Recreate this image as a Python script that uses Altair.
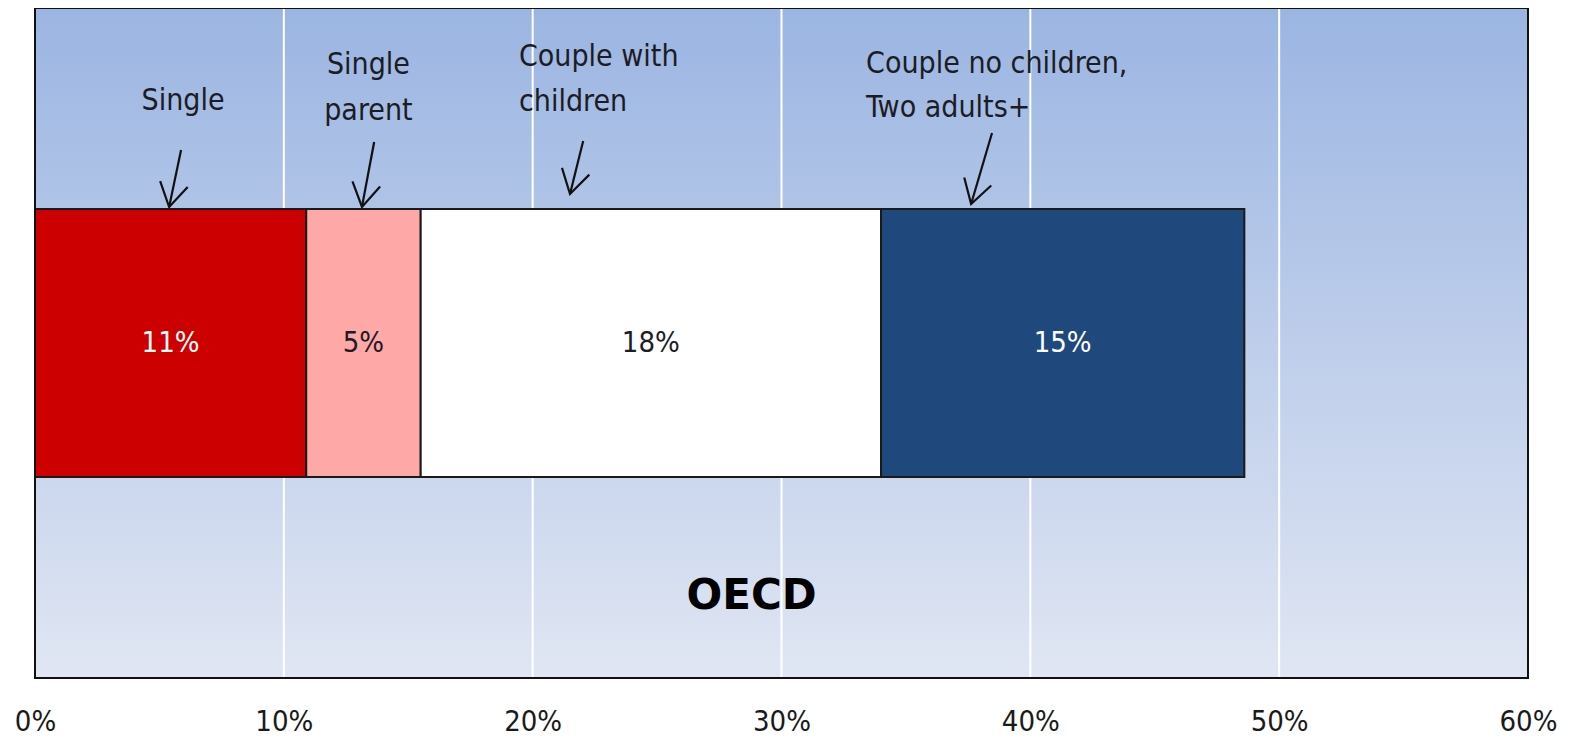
import altair as alt
import pandas as pd
import numpy as np

# ---------------- data ----------------
group = "OECD"
categories = ["Single", "Single parent", "Couple with children", "Couple no children, Two adults+"]
shares = [10.9, 4.6, 18.5, 14.6]
share_labels = ["11%", "5%", "18%", "15%"]
tick_values = [0, 10, 20, 30, 40, 50, 60]

# annotation text lines (x in %, y in pixels from top of plot)
ann_lines = ["Single", "Single", "parent", "Couple  with", "children", "Couple  no children,", "Two adults+"]
ann_x = [5.95, 13.4, 13.4, 19.45, 19.45, 33.4, 33.4]
ann_y = [93, 57, 103, 49, 94, 56, 100]
ann_align = ["center", "center", "center", "left", "left", "left", "left"]

# annotation arrows
arrow_x_from = [5.87, 13.63, 22.03, 38.46]
arrow_x_to = [5.39, 13.14, 21.5, 37.62]
arrow_y_from = [142, 134, 133, 125]
arrow_y_to = [199, 199, 186, 196]

group_label_x = 28.8
group_label_y = 588

# ---------------- styles ----------------
bar_colors = ["#cc0000", "#ffa8a8", "#ffffff", "#1f497d"]
light_label_cats = ["Single", "Couple no children, Two adults+"]
FONT = "DejaVu Sans Condensed, Liberation Sans Narrow, DejaVu Sans"
TXT = "#1c1c24"
W, H = 1493, 670
XMAX = 60

# ---------------- tables ----------------
ends = np.cumsum(shares)
starts = ends - np.array(shares)
bars = pd.DataFrame({
    "group": group,
    "category": categories,
    "start": starts,
    "end": ends,
    "mid": (starts + ends) / 2,
    "label": share_labels,
})
ticks = pd.DataFrame({"tick": tick_values})
ann = pd.DataFrame({"text": ann_lines, "x": ann_x, "y": ann_y, "align": ann_align})
px_per_unit = W / XMAX
dxp = (np.array(arrow_x_to) - np.array(arrow_x_from)) * px_per_unit
dyp = np.array(arrow_y_to) - np.array(arrow_y_from)
arrows = pd.DataFrame({
    "x0": arrow_x_from, "x1": arrow_x_to,
    "y0": arrow_y_from, "y1": arrow_y_to,
    "angle": np.degrees(np.arctan2(-dxp, dyp)) % 360,
})

x_scale = alt.Scale(domain=[0, XMAX], nice=False, zero=True)
x_axis = alt.Axis(values=tick_values, labelExpr="datum.value + '%'", labelFont=FONT,
                  labelFontSize=29, labelColor="#1a1a1a", labelPadding=29, ticks=False,
                  domain=False, grid=False, title=None, labelFlush=False, labelOverlap=False)


def X(field):
    return alt.X(field, type="quantitative", scale=x_scale, axis=x_axis)


y_band = alt.Y("group:N", scale=alt.Scale(paddingOuter=0.75, paddingInner=0), axis=None)
y_ann_scale = alt.Scale(domain=[0, H], reverse=True, nice=False, zero=False)

# ---------------- layers ----------------
gradient = alt.LinearGradient(
    gradient="linear", x1=0, x2=0, y1=0, y2=1,
    stops=[alt.GradientStop(color="#9bb5e2", offset=0),
           alt.GradientStop(color="#e0e6f3", offset=1)],
)
bg = alt.Chart(ticks).mark_rect(fill=gradient, strokeWidth=0).encode(
    x=alt.value(0), x2=alt.value(W), y=alt.value(0), y2=alt.value(H)
)

grid = alt.Chart(ticks).mark_rule(color="white", strokeWidth=2).encode(x=X("tick"))

bar = alt.Chart(bars).mark_bar(stroke="#1a1a1a", strokeWidth=2).encode(
    x=X("start"), x2="end", y=y_band,
    fill=alt.Fill("category:N", scale=alt.Scale(domain=categories, range=bar_colors), legend=None),
)

bar_text = alt.Chart(bars).mark_text(font=FONT, fontSize=29, align="center", baseline="middle").encode(
    x=X("mid"), y=y_band, text="label:N",
    color=alt.condition(alt.FieldOneOfPredicate(field="category", oneOf=light_label_cats),
                        alt.value("#ffffff"), alt.value(TXT)),
)

ann_center = alt.Chart(ann).transform_filter("datum.align == 'center'").mark_text(
    font=FONT, fontSize=30, align="center", baseline="middle", color=TXT
).encode(x=X("x"), y=alt.Y("y:Q", scale=y_ann_scale, axis=None), text="text:N")

ann_left = alt.Chart(ann).transform_filter("datum.align == 'left'").mark_text(
    font=FONT, fontSize=30, align="left", baseline="middle", color=TXT
).encode(x=X("x"), y=alt.Y("y:Q", scale=y_ann_scale, axis=None), text="text:N")

arrow_shaft = alt.Chart(arrows).mark_rule(color="#111111", strokeWidth=2.2).encode(
    x=X("x0"), x2="x1",
    y=alt.Y("y0:Q", scale=y_ann_scale, axis=None), y2="y1",
)

arrow_head = alt.Chart(arrows).mark_point(
    shape="M-0.6,-1L0,0L0.6,-1", filled=False, stroke="#111111", strokeWidth=2.2,
    size=2200, opacity=1,
).encode(
    x=X("x1"), y=alt.Y("y1:Q", scale=y_ann_scale, axis=None),
    angle=alt.Angle("angle:Q", scale=None),
)

group_text = alt.Chart(pd.DataFrame({"group": [group]})).mark_text(
    font="DejaVu Sans", fontSize=42, fontWeight="bold", align="center", baseline="middle", color="#000000"
).encode(
    x=alt.X(datum=group_label_x, type="quantitative", scale=x_scale, axis=x_axis),
    y=alt.value(group_label_y), text="group:N",
)

frame = alt.Chart(ticks).mark_rect(filled=False, stroke="#111111", strokeWidth=2).encode(
    x=alt.value(0), x2=alt.value(W), y=alt.value(0), y2=alt.value(H)
)

chart = alt.layer(
    bg, grid, bar, bar_text, ann_center, ann_left, arrow_shaft, arrow_head, group_text, frame
).resolve_scale(y="independent").properties(
    width=W, height=H,
    autosize=alt.AutoSizeParams(type="none"),
    padding={"left": 27, "top": 0, "right": 32, "bottom": 59},
).configure_view(stroke=None).configure(background="white")

chart.save("out.html", embed_options={"renderer": "svg", "actions": False})
